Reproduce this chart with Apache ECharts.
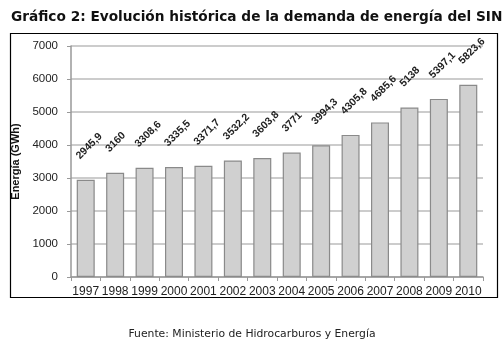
<!DOCTYPE html>
<html><head><meta charset="utf-8">
<script src="https://cdn.jsdelivr.net/npm/echarts@6/dist/echarts.min.js"></script>
<style>html,body{margin:0;padding:0;background:#fff}#c{width:504px;height:345px}</style>
</head><body><div id="c"></div>
<script>
const years = ['1997','1998','1999','2000','2001','2002','2003','2004','2005','2006','2007','2008','2009','2010'];
const demand = [2945.9,3160,3308.6,3335.5,3371.7,3532.2,3603.8,3771,3994.3,4305.8,4685.6,5138,5397.1,5823.6];
const yTicks = [0,1000,2000,3000,4000,5000,6000,7000];
const chart = echarts.init(document.getElementById('c'));
chart.setOption({
  animation:false,
  title:[{text:'Gráfico 2: Evolución histórica de la demanda de energía del SIN',left:6,top:5,
    textStyle:{fontFamily:'DejaVu Sans',fontWeight:'bold',fontSize:13.7,color:'#111'}},
    {text:'Fuente: Ministerio de Hidrocarburos y Energía',left:'center',top:324,
    textStyle:{fontFamily:'DejaVu Sans',fontWeight:'normal',fontSize:10.8,color:'#222'}}],
  graphic:[{type:'rect',shape:{x:10.5,y:33.5,width:487,height:264},style:{fill:null,stroke:'#000',lineWidth:1.2}}],
  grid:{left:71,right:21,top:46,bottom:68},
  xAxis:{type:'category',data:years,
    axisLine:{lineStyle:{color:'#999',width:1.5}},
    axisTick:{show:true,alignWithLabel:false,length:4,lineStyle:{color:'#999'}},
    axisLabel:{interval:0,fontFamily:'Liberation Sans',fontSize:12,color:'#222',margin:9}},
  yAxis:{type:'value',min:0,max:7000,interval:1000,
    name:'Energía (GWh)',nameLocation:'middle',nameGap:48,
    nameTextStyle:{fontFamily:'Liberation Sans',fontWeight:'bold',fontSize:11,color:'#111'},
    axisLine:{show:true,lineStyle:{color:'#999',width:1.5}},
    axisTick:{show:true,length:4,lineStyle:{color:'#999'}},
    splitLine:{lineStyle:{color:'#bbb',width:1.5}},
    axisLabel:{fontFamily:'Liberation Sans',fontSize:11.5,color:'#222',margin:13,
      formatter:v=>yTicks.includes(v)?String(v):''}},
  series:[{type:'bar',data:demand,barWidth:18,
    itemStyle:{color:'#d0d0d0',borderColor:'#8a8a8a',borderWidth:1.2},
    label:{show:true,position:'top',rotate:45,align:'left',verticalAlign:'middle',distance:6,offset:[6,-17],
      fontFamily:'Liberation Sans',fontSize:10.5,fontWeight:'bold',color:'#222',
      formatter:p=>String(p.value).replace('.',',')}}]
});
</script></body></html>
